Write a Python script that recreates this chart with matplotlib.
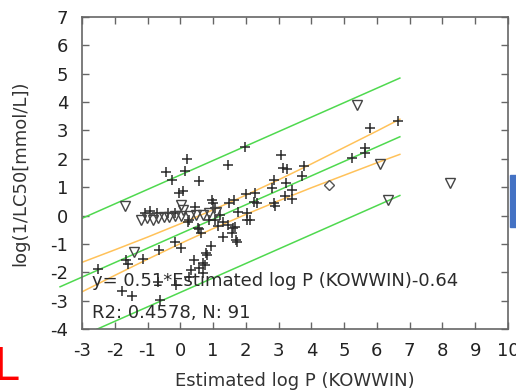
import numpy as np
import matplotlib
matplotlib.use('Agg')
import matplotlib.pyplot as plt
from matplotlib.patches import Rectangle

plt.rcParams['font.family'] = ['DejaVu Sans']
plt.rcParams['axes.unicode_minus'] = False

# regression line stated in the annotation
slope = 0.51
intercept = -0.64
r2 = 0.4578
n_obs = 91

# prediction band half width (green outer lines)
pred_halfwidth = 2.07

# confidence band half width (orange lines) at a few x positions
band_x = [-3, -2, -1, 0, 1, 2, 3, 4, 5, 6, 6.7]
band_hw = [0.52, 0.45, 0.39, 0.35, 0.33, 0.34, 0.37, 0.42, 0.49, 0.56, 0.62]

# measured compounds (plus markers)
plus_x = [-2.50, -1.78, -1.47, -1.65, -1.60, -1.15, -0.66, -0.69, -0.61, -0.15,
          0.02, -0.13, 0.25, -0.44, -0.26, 0.20, 0.14, -0.03, 0.09, 0.58,
          1.45, 1.96, -0.93, -1.08, -0.72, -0.37, -0.15, 0.24, 0.55, 0.45,
          1.00, 1.05, 0.98, 1.21, 1.05, 1.31, 1.46, 1.61, 1.49, 1.64,
          1.75, 1.68, 1.59, 1.70, 1.72, 1.29, 1.14, 0.88, 0.64, 0.58,
          0.27, 0.93, 0.78, 0.80, 0.68, 0.43, 0.32, 0.58, 0.75, 0.68,
          1.99, 2.28, 2.25, 2.33, 2.05, 2.05, 2.12, 2.81, 2.86, 3.22,
          3.42, 3.20, 3.40, 2.86, 2.89, 3.07, 3.12, 3.27, 3.76, 3.70,
          5.25, 5.63, 5.65, 5.78, 6.65]
plus_y = [-1.89, -2.66, -2.83, -1.56, -1.70, -1.54, -1.21, -2.33, -2.97, -0.95,
          -1.15, -2.44, -2.15, 1.53, 1.25, 1.99, 1.57, 0.80, 0.87, 1.22,
          1.79, 2.43, 0.15, 0.10, 0.10, 0.10, 0.08, -0.22, -0.45, 0.30,
          0.43, 0.25, 0.55, 0.01, -0.16, -0.22, -0.34, -0.45, 0.43, 0.55,
          0.14, -0.39, -0.62, -0.86, -0.93, -0.76, -0.36, -0.15, -0.62, -0.48,
          -0.15, -1.09, -1.33, -1.40, -1.66, -1.56, -1.92, -1.86, -1.74, -2.03,
          0.75, 0.81, 0.49, 0.43, 0.08, -0.15, -0.14, 0.96, 1.26, 1.16,
          0.90, 0.69, 0.58, 0.43, 0.34, 2.14, 1.69, 1.63, 1.76, 1.41,
          2.04, 2.37, 2.20, 3.09, 3.34]

# censored values (down triangles)
tri_x = [-1.68, -1.42, -1.20, -1.03, -0.84, -0.67, -0.50, -0.34, -0.17, 0.02,
         0.01, 0.07, 0.30, 0.48, 0.68, 0.88, 1.09, 5.40, 6.09, 6.35, 8.22]
tri_y = [0.34, -1.27, -0.16, -0.10, -0.16, -0.08, -0.04, -0.04, -0.01, 0.00,
         0.37, 0.19, 0.00, 0.02, 0.02, 0.08, 0.14, 3.90, 1.81, 0.55, 1.14]

# outlier (diamond)
dia_x = [4.54]
dia_y = [1.06]

green = '#4fd94f'
orange = '#ffc25a'
ink = '#2b2b2b'

fig = plt.figure(figsize=(5.16, 3.91), dpi=100)
ax = fig.add_axes([82 / 516, 62 / 391, 426 / 516, 312 / 391])

# fitted line, prediction band and confidence band
xc = np.array([-3.67, 6.7])
ax.plot(xc, slope * xc + intercept, color=green, lw=1.1, clip_on=False, zorder=2)
xp = np.array([-3.0, 6.7])
ax.plot(xp, slope * xp + intercept + pred_halfwidth, color=green, lw=1.1, zorder=2)
xl = np.array([-2.55, 6.7])
ax.plot(xl, slope * xl + intercept - pred_halfwidth, color=green, lw=1.1, zorder=2)

bx = np.array(band_x)
bc = slope * bx + intercept
ax.plot(bx, bc + np.array(band_hw), color=orange, lw=1.1, zorder=2)
ax.plot(bx, bc - np.array(band_hw), color=orange, lw=1.1, zorder=2)

ax.plot(plus_x, plus_y, ls='none', marker='+', ms=7.5, mew=1.1, color=ink, zorder=3)
ax.plot(tri_x, tri_y, ls='none', marker='v', ms=7, mew=1.0, mfc='none', mec='#444444', zorder=3)
ax.plot(dia_x, dia_y, ls='none', marker='D', ms=5, mew=1.0, mfc='none', mec='#555555', zorder=3)

ax.text(-2.7, -2.32, 'y= 0.51*Estimated log P (KOWWIN)-0.64', fontsize=13, color=ink,
        va='center', zorder=4)
ax.text(-2.7, -3.43, f'R2: {r2}, N: {n_obs}', fontsize=13, color=ink, va='center', zorder=4)

ax.set_xlim(-3, 10)
ax.set_ylim(-4, 7)
ax.set_xticks(range(-3, 11))
ax.set_yticks(range(-4, 8))
ax.tick_params(direction='in', top=True, right=True, length=5, width=1,
               color='#666666', labelsize=13, labelcolor='#222222')
ax.tick_params(axis='x', pad=9)
ax.tick_params(axis='y', pad=10)
for sp in ax.spines.values():
    sp.set_color('#666666')
    sp.set_linewidth(1.2)

ax.set_xlabel('Estimated log P (KOWWIN)', fontsize=13, color='#333333', labelpad=9)
ax.set_ylabel('log(1/LC50[mmol/L])', fontsize=13, color='#333333', labelpad=15)

# slide decorations around the chart
fig.patches.append(Rectangle((510 / 516, 164 / 391), 6 / 516, 52 / 391,
                             transform=fig.transFigure, color='#4472c4'))
fig.text(-6 / 516, 2 / 391, 'L', fontsize=32, color='red', ha='left', va='bottom')

fig.savefig('out.png', dpi=100)
